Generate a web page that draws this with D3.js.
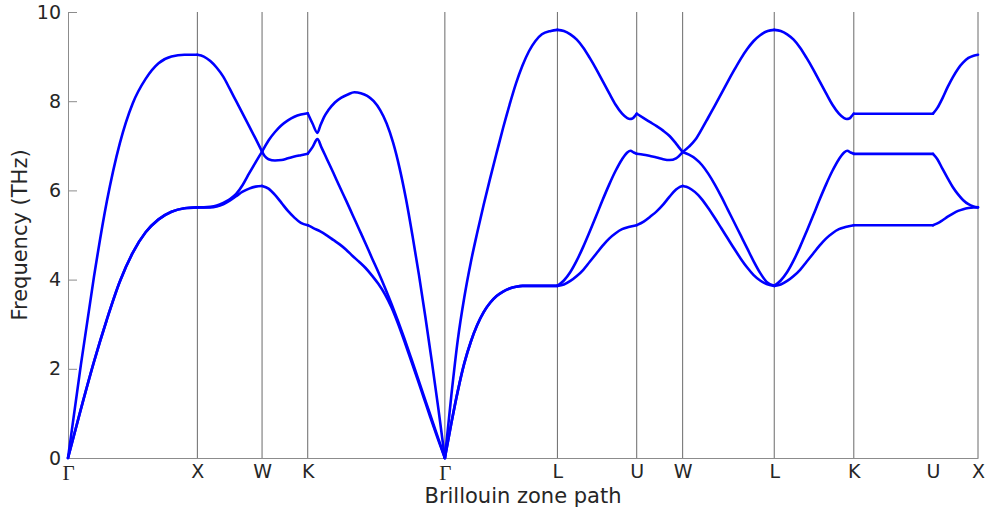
<!DOCTYPE html>
<html>
<head>
<meta charset="utf-8">
<script src="https://cdn.jsdelivr.net/npm/d3@7"></script>
<style>
  html, body { margin: 0; padding: 0; background: #ffffff; }
  svg { display: block; }
</style>
</head>
<body>
<svg id="chart" width="988" height="512"></svg>
<script>
// ---- data ----
const tickPositions = [0, 1.0, 1.5, 1.853, 2.913, 3.783, 4.396, 4.751, 5.459, 6.074, 6.686, 7.034];
const tickLabels = ["Γ", "X", "W", "K", "Γ", "L", "U", "W", "L", "K", "U", "X"];
const tickHasLine = [false, true, true, true, true, true, true, true, true, true, false, true];
const yTicks = [0, 2, 4, 6, 8, 10];

// lowest branch [k, THz]
const band1 = [
  [0,0],[0.1,1.1],[0.2,2.15],[0.3,3.1],[0.4,3.95],[0.5,4.6],[0.6,5.06],[0.7,5.35],[0.8,5.52],[0.9,5.6],[1.0,5.62],
  [1.05,5.62],[1.1,5.62],[1.15,5.64],[1.2,5.69],[1.25,5.77],[1.3,5.87],[1.35,5.97],[1.4,6.04],[1.45,6.085],[1.5,6.1],
  [1.55,6.04],[1.6,5.9],[1.65,5.72],[1.7,5.54],[1.75,5.39],[1.8,5.27],[1.853,5.22],
  [1.9,5.15],[1.95,5.08],[2.0,4.99],[2.05,4.89],[2.1,4.79],[2.15,4.67],[2.2,4.53],[2.25,4.4],[2.3,4.26],[2.35,4.09],[2.4,3.9],[2.45,3.67],[2.5,3.38],[2.55,3.02],[2.6,2.62],[2.65,2.2],[2.7,1.78],[2.75,1.35],[2.8,0.92],[2.85,0.5],[2.913,0],
  [2.963,0.78],[3.013,1.5],[3.063,2.12],[3.113,2.6],[3.163,2.98],[3.213,3.27],[3.263,3.48],[3.313,3.63],[3.363,3.73],[3.413,3.8],[3.463,3.84],[3.513,3.86],[3.6,3.86],[3.783,3.86],
  [3.833,3.89],[3.883,3.97],[3.933,4.08],[3.983,4.22],[4.033,4.4],[4.083,4.58],[4.133,4.76],[4.183,4.92],[4.233,5.04],[4.283,5.13],[4.333,5.18],[4.396,5.22],
  [4.45,5.3],[4.5,5.41],[4.55,5.53],[4.6,5.68],[4.65,5.86],[4.7,6.02],[4.73,6.08],[4.751,6.1],
  [4.78,6.08],[4.82,6.02],[4.87,5.9],[4.9,5.8],[4.95,5.6],[5.0,5.38],[5.05,5.15],[5.1,4.92],[5.15,4.69],[5.2,4.47],[5.25,4.27],[5.3,4.1],[5.35,3.98],[5.4,3.9],[5.459,3.86],
  [5.509,3.89],[5.559,3.97],[5.609,4.08],[5.659,4.22],[5.709,4.4],[5.759,4.58],[5.809,4.76],[5.859,4.92],[5.909,5.04],[5.959,5.13],[6.009,5.18],[6.074,5.22],
  [6.686,5.22],
  [6.72,5.26],[6.76,5.33],[6.8,5.41],[6.84,5.48],[6.88,5.54],[6.92,5.58],[6.96,5.605],[7.0,5.617],[7.034,5.62]
];

// middle branch
const band2 = [
  [0,0],[0.1,1.1],[0.2,2.15],[0.3,3.1],[0.4,3.95],[0.5,4.6],[0.6,5.06],[0.7,5.35],[0.8,5.52],[0.9,5.6],[1.0,5.62],
  [1.05,5.62],[1.1,5.63],[1.15,5.66],[1.2,5.72],[1.25,5.8],[1.3,5.92],[1.35,6.12],[1.4,6.38],[1.45,6.63],[1.5,6.87],
  [1.52,6.77],[1.55,6.7],[1.6,6.67],[1.65,6.68],[1.7,6.72],[1.75,6.76],[1.8,6.79],[1.853,6.82],
  [1.89,6.97],[1.928,7.15],[1.96,6.96],[2.0,6.71],[2.05,6.4],[2.1,6.08],[2.15,5.77],[2.2,5.45],[2.25,5.13],[2.3,4.81],[2.35,4.48],[2.4,4.16],[2.45,3.82],[2.5,3.46],[2.55,3.08],[2.6,2.68],[2.65,2.26],[2.7,1.83],[2.75,1.4],[2.8,0.97],[2.85,0.54],[2.913,0],
  [2.963,0.78],[3.013,1.5],[3.063,2.12],[3.113,2.6],[3.163,2.98],[3.213,3.27],[3.263,3.48],[3.313,3.63],[3.363,3.73],[3.413,3.8],[3.463,3.84],[3.513,3.86],[3.6,3.86],[3.783,3.86],
  [3.833,3.98],[3.883,4.17],[3.933,4.43],[3.983,4.74],[4.033,5.08],[4.083,5.43],[4.133,5.79],[4.183,6.13],[4.233,6.44],[4.283,6.7],[4.323,6.85],[4.348,6.89],[4.373,6.85],[4.396,6.82],
  [4.45,6.8],[4.5,6.77],[4.55,6.74],[4.6,6.7],[4.65,6.68],[4.7,6.72],[4.751,6.86],
  [4.8,6.8],[4.85,6.71],[4.9,6.57],[4.95,6.37],[5.0,6.13],[5.05,5.86],[5.1,5.57],[5.15,5.28],[5.2,4.99],[5.25,4.7],[5.3,4.41],[5.35,4.15],[5.4,3.95],[5.459,3.86],
  [5.509,3.98],[5.559,4.17],[5.609,4.43],[5.659,4.74],[5.709,5.08],[5.759,5.43],[5.809,5.79],[5.859,6.13],[5.909,6.44],[5.959,6.7],[5.999,6.85],[6.024,6.89],[6.049,6.85],[6.074,6.82],
  [6.686,6.82],
  [6.72,6.7],[6.76,6.48],[6.8,6.27],[6.84,6.07],[6.88,5.91],[6.92,5.78],[6.96,5.69],[7.0,5.64],[7.034,5.62]
];

// upper branch
const band3 = [
  [0,0],[0.1,2.1],[0.2,4.05],[0.3,5.75],[0.4,7.05],[0.5,7.95],[0.6,8.5],[0.7,8.85],[0.8,9.0],[0.9,9.04],[1.0,9.04],
  [1.05,9.0],[1.1,8.9],[1.15,8.75],[1.2,8.55],[1.25,8.28],[1.3,8.0],[1.35,7.72],[1.4,7.44],[1.45,7.16],[1.5,6.87],
  [1.55,7.12],[1.6,7.31],[1.65,7.46],[1.7,7.57],[1.75,7.65],[1.8,7.7],[1.853,7.73],
  [1.89,7.5],[1.928,7.29],[1.95,7.45],[1.98,7.65],[2.013,7.8],[2.063,7.97],[2.113,8.08],[2.163,8.15],[2.213,8.2],[2.263,8.18],[2.313,8.12],[2.363,8.0],[2.413,7.8],[2.463,7.5],[2.513,7.07],[2.563,6.5],[2.613,5.8],[2.663,4.98],[2.713,4.1],[2.763,3.15],[2.813,2.15],[2.863,1.1],[2.913,0],
  [2.963,1.4],[3.013,2.65],[3.063,3.6],[3.113,4.38],[3.163,5.05],[3.213,5.68],[3.263,6.27],[3.313,6.84],[3.363,7.4],[3.413,7.92],[3.463,8.4],[3.513,8.8],[3.563,9.12],[3.613,9.35],[3.663,9.5],[3.733,9.575],[3.783,9.6],
  [3.833,9.575],[3.883,9.5],[3.933,9.38],[3.983,9.2],[4.033,8.97],[4.083,8.72],[4.133,8.45],[4.183,8.18],[4.233,7.92],[4.283,7.72],[4.323,7.62],[4.343,7.6],[4.363,7.61],[4.383,7.67],[4.396,7.72],
  [4.45,7.62],[4.5,7.53],[4.55,7.44],[4.6,7.34],[4.65,7.22],[4.7,7.05],[4.751,6.86],
  [4.8,6.98],[4.85,7.14],[4.9,7.38],[4.95,7.64],[5.0,7.9],[5.05,8.17],[5.1,8.44],[5.15,8.7],[5.2,8.95],[5.25,9.17],[5.3,9.35],[5.35,9.48],[5.409,9.575],[5.459,9.6],
  [5.509,9.575],[5.559,9.5],[5.609,9.38],[5.659,9.2],[5.709,8.97],[5.759,8.72],[5.809,8.45],[5.859,8.18],[5.909,7.92],[5.959,7.72],[5.999,7.62],[6.019,7.6],[6.039,7.61],[6.059,7.67],[6.074,7.72],
  [6.686,7.72],
  [6.72,7.85],[6.76,8.07],[6.8,8.32],[6.84,8.54],[6.88,8.73],[6.92,8.87],[6.96,8.97],[7.0,9.02],[7.034,9.04]
];

const bands = [band1, band2, band3];

// ---- layout ----
const svg = d3.select("#chart");
const mLeft = 68, mRight = 978, mTop = 12, mBottom = 458;
const x = d3.scaleLinear().domain([0, tickPositions[tickPositions.length - 1]]).range([mLeft, mRight]);
const y = d3.scaleLinear().domain([0, 10]).range([mBottom, mTop]);
const sansFont = "'DejaVu Sans', Verdana, sans-serif";

// vertical high-symmetry lines
svg.append("g").selectAll("line")
  .data(tickPositions.filter((d, i) => tickHasLine[i]))
  .join("line")
  .attr("x1", d => x(d)).attr("x2", d => x(d))
  .attr("y1", y(0)).attr("y2", y(10))
  .attr("stroke", "#6a6a6a").attr("stroke-width", 1);

// y axis
const yAxis = svg.append("g")
  .attr("transform", `translate(${mLeft},0)`)
  .call(d3.axisLeft(y).tickValues(yTicks).tickSizeInner(-9).tickSizeOuter(0).tickPadding(7).tickFormat(d3.format("d")));
yAxis.select(".domain").attr("stroke", "#8c8c8c");
yAxis.selectAll(".tick line").attr("stroke", "#8c8c8c");
yAxis.selectAll(".tick text").attr("fill", "#262626").style("font-family", sansFont).style("font-size", "19px");

// x axis
const xAxis = svg.append("g")
  .attr("transform", `translate(0,${mBottom})`)
  .call(d3.axisBottom(x).tickValues(tickPositions).tickSize(0).tickPadding(7).tickFormat((d, i) => tickLabels[i]));
xAxis.select(".domain").attr("stroke", "#8c8c8c");
xAxis.selectAll(".tick text")
  .attr("fill", "#262626")
  .style("font-family", (d, i) => tickLabels[i] === "Γ" ? "'Liberation Serif', 'DejaVu Serif', serif" : sansFont)
  .style("font-size", (d, i) => tickLabels[i] === "Γ" ? "21px" : "19px");

// bands, drawn segment by segment between high-symmetry points
const line = d3.line().x(d => x(d[0])).y(d => y(d[1])).curve(d3.curveMonotoneX);
const gBands = svg.append("g");
bands.forEach(band => {
  for (let i = 0; i < tickPositions.length - 1; i++) {
    const t0 = tickPositions[i], t1 = tickPositions[i + 1];
    const seg = band.filter(p => p[0] >= t0 - 1e-6 && p[0] <= t1 + 1e-6);
    if (seg.length < 2) continue;
    gBands.append("path")
      .attr("d", line(seg))
      .attr("fill", "none")
      .attr("stroke", "#0000ff")
      .attr("stroke-width", 2.6)
      .attr("stroke-linejoin", "round")
      .attr("stroke-linecap", "round");
  }
});

// axis titles
svg.append("text")
  .attr("x", (mLeft + mRight) / 2).attr("y", 503)
  .attr("text-anchor", "middle")
  .attr("fill", "#262626")
  .style("font-family", sansFont).style("font-size", "21px")
  .text("Brillouin zone path");

svg.append("text")
  .attr("transform", `translate(27,${(mTop + mBottom) / 2}) rotate(-90)`)
  .attr("text-anchor", "middle")
  .attr("fill", "#262626")
  .style("font-family", sansFont).style("font-size", "21px")
  .text("Frequency (THz)");
</script>
</body>
</html>
